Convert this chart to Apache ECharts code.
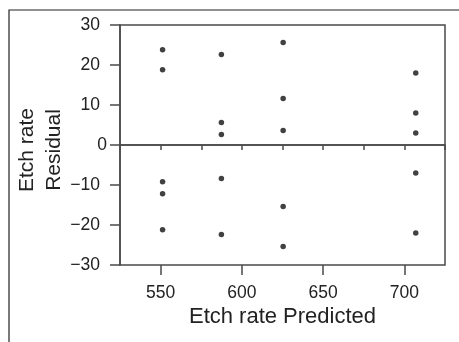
<!DOCTYPE html>
<html>
<head>
<meta charset="utf-8">
<script src="https://cdn.jsdelivr.net/npm/echarts@6/dist/echarts.min.js"></script>
<style>
  html, body { margin: 0; padding: 0; background: #fff; }
  #chart { width: 459px; height: 342px; }
</style>
</head>
<body>
<div id="chart"></div>
<script>
// Fitted (predicted) etch rate for each RF power level
const predicted = [551.2, 587.4, 625.4, 707.0];
// Residuals for the five replicates at each level
const residuals160 = [23.8, -9.2, -21.2, -12.2, 18.8];
const residuals180 = [-22.4, 5.6, 2.6, -8.4, 22.6];
const residuals200 = [-25.4, 25.6, -15.4, 11.6, 3.6];
const residuals220 = [18.0, -7.0, 8.0, -22.0, 3.0];
const residualGroups = [residuals160, residuals180, residuals200, residuals220];

const xTickLabels = [550, 600, 650, 700];
const yTickLabels = [-30, -20, -10, 0, 10, 20, 30];

const points = [];
residualGroups.forEach((group, i) => {
  group.forEach(r => points.push([predicted[i], r]));
});

const lineColor = '#4a4a4a';
const textColor = '#222';
const font = 'Liberation Sans, Arial, sans-serif';

const chart = echarts.init(document.getElementById('chart'), null, { renderer: 'canvas' });

chart.setOption({
  animation: false,
  backgroundColor: '#fff',
  grid: {
    left: 120, top: 25, width: 325, height: 240,
    containLabel: false, outerBoundsMode: 'none',
    show: true, borderColor: lineColor, borderWidth: 1.5,
    backgroundColor: 'transparent'
  },
  graphic: [{
    type: 'rect',
    shape: { x: 9, y: 10, width: 520, height: 400 },
    style: { fill: 'none', stroke: '#222', lineWidth: 1.2 },
    z: 0
  }],
  xAxis: [{
    // minor ticks every 25
    type: 'value', min: 525, max: 725, interval: 25,
    axisLine: { show: true, lineStyle: { color: lineColor, width: 1.5 } },
    axisTick: { show: true, length: 5, lineStyle: { color: lineColor, width: 1.5 } },
    axisLabel: { show: false },
    splitLine: { show: false }
  }, {
    // major ticks and labels
    type: 'value', min: 525, max: 725, interval: 25, position: 'bottom',
    name: 'Etch rate Predicted', nameLocation: 'middle', nameGap: 41,
    nameMoveOverlap: false,
    nameTextStyle: { color: textColor, fontSize: 22, fontFamily: font },
    axisLine: { show: false },
    axisTick: { show: true, length: 10, customValues: xTickLabels,
      lineStyle: { color: lineColor, width: 1.5 } },
    axisLabel: { show: true, customValues: xTickLabels, margin: 19,
      color: textColor, fontSize: 17.5, fontFamily: font },
    splitLine: { show: false }
  }],
  yAxis: {
    type: 'value', min: -30, max: 30, interval: 10,
    name: 'Etch rate\nResidual', nameLocation: 'middle', nameGap: 52,
    nameMoveOverlap: false,
    nameTextStyle: { color: textColor, fontSize: 21, fontFamily: font, lineHeight: 27,
      padding: [0, 10, 0, 0] },
    axisLine: { show: true, lineStyle: { color: lineColor, width: 1.5 } },
    axisTick: { show: true, length: 10, lineStyle: { color: lineColor, width: 1.5 } },
    axisLabel: {
      margin: 13, color: textColor, fontSize: 17.5, fontFamily: font,
      formatter: v => v === 0 ? '{z|0}' : '{n|' + String(v).replace('-', '\u2212') + '}',
      rich: {
        z: { color: textColor, fontSize: 17.5, fontFamily: font },
        n: { color: textColor, fontSize: 17.5, fontFamily: font, padding: [0, 7, 0, 0] }
      }
    },
    splitLine: { show: false }
  },
  series: [{
    type: 'scatter',
    xAxisIndex: 1,
    data: points,
    symbol: 'circle',
    symbolSize: 5.5,
    itemStyle: { color: '#111' },
    markLine: {
      silent: true, symbol: 'none', label: { show: false },
      lineStyle: { color: lineColor, width: 1.5, type: 'solid' },
      data: [{ yAxis: 0 }]
    },
    z: 3
  }]
});
</script>
</body>
</html>
